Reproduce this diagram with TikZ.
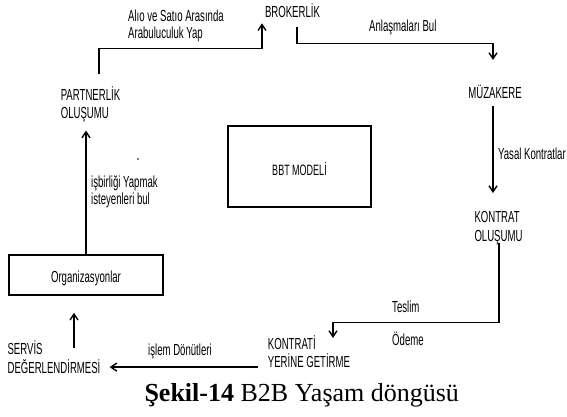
\documentclass[tikz,border=0pt]{standalone}
\usepackage{fontspec}
\setmainfont{Liberation Serif}
\newfontfamily\diafont[FakeStretch=0.6]{Liberation Sans}
\usetikzlibrary{arrows.meta,calc}

\tikzset{
  flow/.style={line width=1.4pt, -{Straight Barb[length=6pt,width=8pt]}},
  stage/.style={font=\diafont\fontsize{16}{18.5}\selectfont, align=left, inner sep=0pt},
  note/.style={font=\diafont\fontsize{16}{17}\selectfont, align=left, inner sep=0pt, anchor=west},
  block/.style={draw, line width=1.5pt, inner sep=0pt, text depth=0pt},
}

\begin{document}
\begin{tikzpicture}[x=1pt,y=-1pt]
\useasboundingbox (0,0) rectangle (567,417);

% Stages of the cycle
\node[stage] (broker) at (292.5,10.8) {BROKERLİK};
\node[stage] (muzakere) at (495,91.8) {MÜZAKERE};
\node[stage] (kontrat) at (498.5,228) {KONTRAT\\OLUŞUMU};
\node[stage] (kontrati) at (309,351.4) {KONTRATİ\\YERİNE GETİRME};
\node[stage] (servis) at (54,357) {SERVİS\\DEĞERLENDİRMESİ};
\node[stage] (partner) at (90.5,104.5) {PARTNERLİK\\OLUŞUMU};

% Boxes
\node[block, minimum width=154pt, minimum height=40pt, text height=15.5pt,
  font=\diafont\fontsize{16}{18}\selectfont] (org) at (86,275) {Organizasyonlar};
\node[block, minimum width=143pt, minimum height=81pt, text height=17.8pt,
  font=\diafont\fontsize{15}{17}\selectfont] (bbt) at (299.5,166.5) {BBT MODELİ};

% Labels on the flows
\node[note] (aracilik) at (128,26.1) {Alıo ve Satıo Arasında\\Arabuluculuk Yap};
\node[note] (anlasma) at (369,27.5) {Anlaşmaları Bul};
\node[note] (yasal) at (498,153.6) {Yasal Kontratlar};
\node[note] (teslim) at (392,307) {Teslim};
\node[note] (odeme) at (392,338.7) {Ödeme};
\node[note] (donut) at (148,351.5) {işlem Dönütleri};
\node[note] (isbirligi) at (91,191.5) {işbirliği Yapmak\\isteyenleri bul};
\fill (138,159) circle (0.9pt);

% Flows
\draw[flow] ($(partner.north)+(8.5,-12)$) -- ++(0,-26)
  -| ($(broker.south)+(-30.5,5.25)$);
\draw[flow] ($(broker.south)+(4.5,9.25)$) -- ++(0,16)
  -| ($(muzakere.north)+(-2,-24.85)$);
\draw[flow] ($(muzakere.south)+(-2,7.25)$) -- ($(kontrat.north)+(-5.5,-18.25)$);
\draw[flow] ($(kontrat.south)+(0.5,-2)$) -- ++(0,80)
  -| ($(kontrati.north)+(24,3)$);
\draw[flow] ($(kontrati.south west)+(-10,-0.75)$)
  -- ($(kontrati.south west -| servis.east)+(9,-0.75)$);
\draw[flow] ($(servis.north)+(20,7)$) -- ($(org.south)+(-12,17)$);
\draw[flow] (org.north) -- ($(partner.south)+(-4.5,8)$);

% Caption
\node[font=\fontsize{26}{30}\selectfont, anchor=base west] (caption) at (141,401)
  {\textbf{Şekil-14} B2B Yaşam döngüsü};
\end{tikzpicture}
\end{document}
